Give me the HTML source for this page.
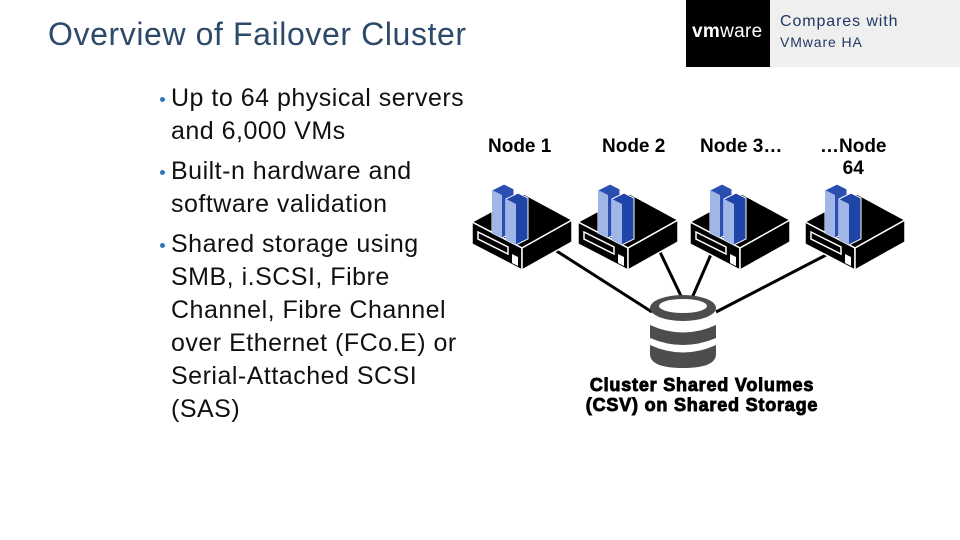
<!DOCTYPE html>
<html><head><meta charset="utf-8"><style>
body{margin:0;width:960px;height:540px;background:#fff;position:relative;overflow:hidden;font-family:"Liberation Sans",sans-serif}
.t{position:absolute;left:48px;top:16px;font-size:32px;color:#2e4a6a;letter-spacing:0.6px;white-space:nowrap}
.b{position:absolute;left:171px;font-size:25px;letter-spacing:0.5px;color:#111;white-space:nowrap;line-height:33px}
.d{position:absolute;left:160px;width:5px;height:5px;border-radius:50%;background:#2e75b6}
.n{position:absolute;font-weight:bold;font-size:19px;color:#000;white-space:nowrap}
</style></head><body>
<div class="t">Overview of Failover Cluster</div>
<div style="position:absolute;left:686px;top:0;width:84px;height:67px;background:#000"></div>
<div style="position:absolute;left:692px;top:21px;color:#fff;font-size:19px;letter-spacing:0.3px"><b>vm</b>ware</div>
<div style="position:absolute;left:770px;top:0;width:190px;height:67px;background:#efefef"></div>
<div style="position:absolute;left:780px;top:13px;font-size:16px;letter-spacing:0.9px;color:#1f3864">Compares with</div>
<div style="position:absolute;left:780px;top:34px;font-size:14px;letter-spacing:0.9px;color:#1f3864">VMware HA</div>

<div class="d" style="top:97px"></div>
<div class="b" style="top:82px">Up to 64 physical servers<br>and 6,000 VMs</div>
<div class="d" style="top:170px"></div>
<div class="b" style="top:155px">Built-n hardware and<br>software validation</div>
<div class="d" style="top:243px"></div>
<div class="b" style="top:228px">Shared storage using<br>SMB, i.SCSI, Fibre<br>Channel, Fibre Channel<br>over Ethernet (FCo.E) or<br>Serial-Attached SCSI<br>(SAS)</div>

<div class="n" style="left:488px;top:136px">Node 1</div>
<div class="n" style="left:602px;top:136px">Node 2</div>
<div class="n" style="left:700px;top:136px">Node 3…</div>
<div class="n" style="left:820px;top:136px;text-align:center;line-height:22px">…Node<br>64</div>

<svg width="960" height="540" style="position:absolute;left:0;top:0">
<defs>
<g id="srv">
<polygon points="0,40 52,12 100,38 50,66" fill="#000" stroke="#fff" stroke-width="1.5"/>
<polygon points="0,40 50,66 50,88 0,62" fill="#000" stroke="#fff" stroke-width="1.5"/>
<polygon points="50,66 100,38 100,60 50,88" fill="#000" stroke="#fff" stroke-width="1.5"/>
<polygon points="6,50 36,65 36,72 6,57" fill="none" stroke="#fff" stroke-width="1.5"/>
<polygon points="40,72 46,75 46,84 40,81" fill="#fff"/>
<polygon points="20,8 32,2 42,7 42,50 30,56 20,51" fill="#2a4fb0" stroke="#fff" stroke-width="1"/>
<polygon points="20,8 30,13 30,56 20,51" fill="#9fb6e6"/>
<polygon points="34,17 46,11 56,16 56,57 44,63 34,58" fill="#1f45a8" stroke="#fff" stroke-width="1"/>
<polygon points="34,17 44,22 44,63 34,58" fill="#9fb6e6"/>
</g>
</defs>
<g stroke="#000" stroke-width="3">
<line x1="555" y1="250" x2="652" y2="312"/>
<line x1="660" y1="252" x2="682" y2="298"/>
<line x1="712" y1="252" x2="692" y2="298"/>
<line x1="826" y1="255" x2="716" y2="312"/>
</g>
<use href="#srv" x="472" y="182"/>
<use href="#srv" x="578" y="182"/>
<use href="#srv" x="690" y="182"/>
<use href="#srv" x="805" y="182"/>
<g fill="#4d4d4d">
<ellipse cx="683" cy="308" rx="33" ry="13"/>
<path d="M650,325 Q683,340 716,325 L716,338 Q683,352 650,338Z"/>
<path d="M650,345 Q683,360 716,345 L716,354 Q716,368 683,368 Q650,368 650,354Z"/>
</g>
<ellipse cx="683" cy="306" rx="24" ry="7" fill="#fff"/>
<text x="702" y="391" text-anchor="middle" font-family="Liberation Sans" font-weight="bold" font-size="18" letter-spacing="0.8" stroke="#000" stroke-width="0.9">Cluster Shared Volumes</text>
<text x="702" y="411" text-anchor="middle" font-family="Liberation Sans" font-weight="bold" font-size="18" letter-spacing="0.8" stroke="#000" stroke-width="0.9">(CSV) on Shared Storage</text>
</svg>
</body></html>
